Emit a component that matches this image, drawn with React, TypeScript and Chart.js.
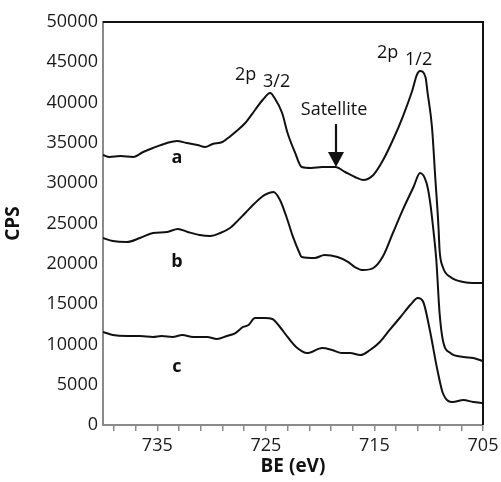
import React, { useEffect, useRef } from "react";
import { Chart, registerables } from "chart.js";

Chart.register(...registerables);

// ---- Data (binding energy in eV, counts per second) ----
const beA = [740, 739.4, 738.4, 737.2, 736.3, 735.4, 734.1, 733.2, 732.3, 731.3, 730.6, 729.9, 729.0, 728.3, 727.8, 726.9, 726.0, 725.3, 724.6, 724.2, 723.5, 723.0, 722.3, 721.7, 720.8, 719.8, 718.6, 717.7, 716.8, 716.05, 715.1, 714.2, 713.3, 712.4, 711.5, 711.1, 710.8, 710.3, 710.1, 709.7, 709.4, 709.1, 709.0, 708.7, 708.0, 706.8, 705.9, 705.0];
const cpsA = [33500, 33250, 33370, 33250, 33870, 34370, 34990, 35240, 34990, 34740, 34490, 34860, 35110, 35800, 36350, 37470, 39080, 40320, 41190, 40570, 38710, 36230, 33750, 32010, 31890, 32010, 32010, 31390, 30770, 30400, 31020, 32880, 35360, 38210, 41560, 43420, 43920, 43180, 41190, 36970, 30770, 24570, 21710, 19600, 18360, 17740, 17620, 17620];

const beB = [740, 739.1, 737.8, 736.6, 735.4, 734.1, 733.1, 732.2, 731.1, 730.1, 729.2, 728.3, 727.8, 726.9, 726.0, 725.1, 724.3, 723.7, 723.1, 722.5, 721.9, 721.7, 720.5, 719.6, 718.4, 717.4, 716.8, 716.05, 715.1, 714.2, 713.3, 712.4, 711.4, 710.8, 710.2, 709.9, 709.6, 709.3, 709.0, 708.7, 708.0, 706.8, 705.9, 705.0];
const cpsB = [23200, 22830, 22700, 23200, 23820, 23950, 24320, 23950, 23570, 23450, 23820, 24440, 25060, 26300, 27540, 28540, 28910, 27920, 25810, 23330, 21340, 20840, 20720, 21090, 20840, 20220, 19600, 19230, 19480, 20970, 23820, 26670, 29530, 31270, 30020, 27920, 24570, 20470, 13900, 10550, 8930, 8440, 8310, 7940];

const beC = [740, 739.1, 737.8, 736.6, 735.4, 734.6, 733.6, 732.7, 731.7, 730.4, 729.5, 728.6, 727.8, 727.1, 726.6, 726.0, 725.1, 724.4, 723.7, 723.0, 722.1, 721.2, 719.8, 718.9, 718.0, 717.25, 716.3, 715.4, 714.5, 713.6, 712.6, 711.7, 711.0, 710.5, 709.9, 709.2, 708.7, 707.8, 706.8, 705.9, 705.0];
const cpsC = [11540, 11170, 11040, 11040, 10920, 11040, 10920, 11170, 10920, 10920, 10670, 11040, 11410, 12160, 12400, 13280, 13280, 13150, 12160, 10920, 9550, 8930, 9550, 9310, 8930, 8930, 8680, 9310, 10300, 11790, 13400, 14890, 15760, 15260, 11790, 6820, 3970, 2850, 3100, 2850, 2730];

const xTickValues = [705, 707, 709, 711, 713, 715, 717, 719, 721, 723, 725, 727, 729, 731, 733, 735, 737, 739];
const xLabelValues = [705, 715, 725, 735];

const seriesLabels = ["a", "b", "c"];
const seriesLabelBE = [733.2, 733.2, 733.2];
const seriesLabelCPS = [33130, 20220, 7200];

const peakTexts = ["2p", "3/2", "2p", "1/2"];
const peakTextBE = [727.84, 725.26, 714.76, 712.18];
const peakTextCPS = [42800, 41940, 45530, 44670];

const satelliteText = "Satellite";
const satelliteBE = 718.72;
const satelliteCPS = 39080;
const arrowBE = 718.54;
const arrowFromCPS = 37340;
const arrowToCPS = 32010;

const toPoints = (xs: number[], ys: number[]) => xs.map((x, i) => ({ x, y: ys[i] }));

const FONT = "'Open Sans', 'Noto Sans', sans-serif";

const annotationPlugin = {
  id: "annotations",
  afterDraw(chart: any) {
    const { ctx, chartArea, scales } = chart;
    const xs = scales.x;
    const ys = scales.y;
    ctx.save();
    // top and right frame lines
    ctx.strokeStyle = "#111";
    ctx.lineWidth = 2;
    ctx.beginPath();
    ctx.moveTo(chartArea.left, chartArea.top);
    ctx.lineTo(chartArea.right, chartArea.top);
    ctx.lineTo(chartArea.right, chartArea.bottom);
    ctx.stroke();

    ctx.fillStyle = "#111";
    // series labels
    ctx.font = `bold 18px ${FONT}`;
    ctx.textAlign = "center";
    ctx.textBaseline = "middle";
    seriesLabels.forEach((t, i) => {
      ctx.fillText(t, xs.getPixelForValue(seriesLabelBE[i]), ys.getPixelForValue(seriesLabelCPS[i]));
    });

    // peak labels
    ctx.font = `18px ${FONT}`;
    ctx.textAlign = "left";
    ctx.textBaseline = "alphabetic";
    peakTexts.forEach((t, i) => {
      ctx.fillText(t, xs.getPixelForValue(peakTextBE[i]), ys.getPixelForValue(peakTextCPS[i]));
    });

    // satellite label
    ctx.textAlign = "center";
    ctx.textBaseline = "middle";
    ctx.fillText(satelliteText, xs.getPixelForValue(satelliteBE), ys.getPixelForValue(satelliteCPS));

    // arrow
    const ax = xs.getPixelForValue(arrowBE);
    const ay0 = ys.getPixelForValue(arrowFromCPS);
    const ay1 = ys.getPixelForValue(arrowToCPS);
    ctx.lineWidth = 2.2;
    ctx.beginPath();
    ctx.moveTo(ax, ay0);
    ctx.lineTo(ax, ay1 - 10);
    ctx.stroke();
    ctx.beginPath();
    ctx.moveTo(ax - 8, ay1 - 15);
    ctx.lineTo(ax + 8, ay1 - 15);
    ctx.lineTo(ax, ay1);
    ctx.closePath();
    ctx.fill();
    ctx.restore();
  },
};

export default function App() {
  const ref = useRef<HTMLCanvasElement | null>(null);

  useEffect(() => {
    if (!ref.current) return;
    const lineStyle = {
      borderColor: "#111",
      borderWidth: 2,
      pointRadius: 0,
      showLine: true,
      cubicInterpolationMode: "monotone",
      fill: false,
    };
    const chart = new Chart(ref.current, {
      type: "scatter",
      data: {
        datasets: [
          { label: "a", data: toPoints(beA, cpsA), ...lineStyle },
          { label: "b", data: toPoints(beB, cpsB), ...lineStyle },
          { label: "c", data: toPoints(beC, cpsC), ...lineStyle },
        ],
      },
      options: {
        responsive: false,
        animation: false,
        layout: { padding: { left: 0, top: 22, right: 18, bottom: 0 } },
        plugins: { legend: { display: false }, tooltip: { enabled: false } },
        scales: {
          x: {
            type: "linear",
            min: 705,
            max: 740,
            reverse: true,
            afterBuildTicks: (scale: any) => {
              scale.ticks = xTickValues.map((v) => ({ value: v }));
            },
            afterFit: (scale: any) => {
              scale.height = 57;
            },
            ticks: {
              autoSkip: false,
              maxRotation: 0,
              padding: 4,
              color: "#1a1a1a",
              font: { family: FONT, size: 18 },
              callback: (v: any) => (xLabelValues.includes(Number(v)) ? String(v) : ""),
            },
            grid: { drawOnChartArea: false, drawTicks: true, tickLength: 6, color: "#8a8a8a", lineWidth: 1.5 },
            border: { display: true, color: "#8a8a8a", width: 2 },
            title: {
              display: true,
              text: "BE (eV)",
              color: "#111",
              font: { family: FONT, size: 19, weight: "bold" },
              padding: { top: 0, bottom: 4 },
            },
          },
          y: {
            min: 0,
            max: 50000,
            afterFit: (scale: any) => {
              scale.width = 103;
            },
            ticks: {
              stepSize: 5000,
              padding: 5,
              color: "#1a1a1a",
              font: { family: FONT, size: 18 },
              callback: (v: any) => String(v),
            },
            grid: { display: false, drawTicks: false },
            border: { display: true, color: "#8a8a8a", width: 2 },
            title: {
              display: true,
              text: "CPS",
              color: "#111",
              font: { family: FONT, size: 19, weight: "bold" },
              padding: { top: 2, bottom: 0 },
            },
          },
        },
      },
      plugins: [annotationPlugin],
    } as any);
    return () => chart.destroy();
  }, []);

  return (
    <div style={{ position: "fixed", left: 0, top: 0, width: 501, height: 482, background: "#fff" }}>
      <canvas ref={ref} width={501} height={482} />
    </div>
  );
}
